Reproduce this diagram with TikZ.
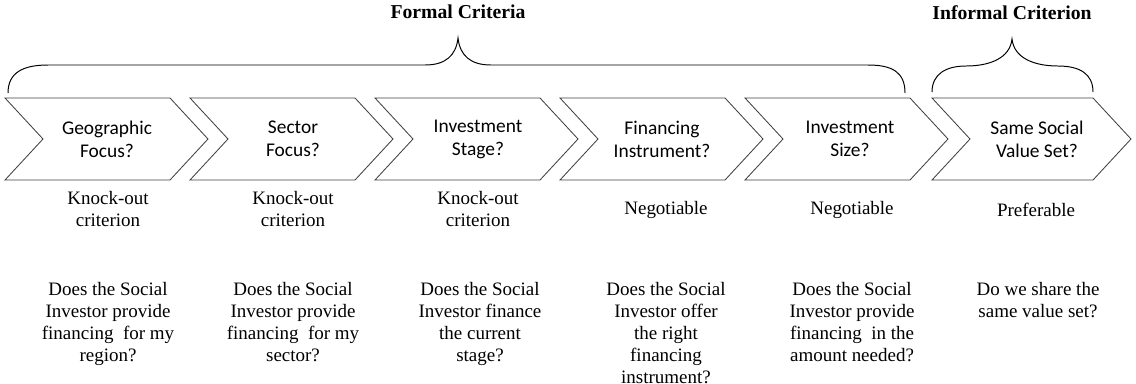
\documentclass[tikz,border=0pt]{standalone}
\usepackage{fontspec}
\setmainfont{Liberation Serif}
\newfontfamily\stepfont{Carlito}
\usepackage{tikz}
\usetikzlibrary{positioning}
\tikzstyle{chevron}=[draw=black!75, line width=0.6pt, line join=miter]
\tikzstyle{curly}=[draw=black, line width=0.7pt]
\tikzstyle{steptext}=[align=center, inner sep=0pt, font=\stepfont\fontsize{13.8}{16.4}\selectfont]
\tikzstyle{ratetext}=[align=center, inner sep=0pt, font=\fontsize{13.5}{15.6}\selectfont]
\tikzstyle{asktext}=[align=center, anchor=north, inner sep=0pt, font=\fontsize{13.5}{15.6}\selectfont]
\tikzstyle{bracetitle}=[inner sep=0pt, font=\bfseries\fontsize{14}{16}\selectfont]

\begin{document}
\begin{tikzpicture}[x=0.025cm, y=-0.025cm]
		   \useasboundingbox (0,0) rectangle (1136,383);
		   \begin{scope}
			   \draw[chevron] (5,98) -- ++(165,0) -- ++(38,41) -- ++(-38,41) -- ++(-165,0) -- ++(38,-41) -- cycle;
			   \draw[chevron] (190,98) -- ++(165,0) -- ++(38,41) -- ++(-38,41) -- ++(-165,0) -- ++(38,-41) -- cycle;
			   \draw[chevron] (375,98) -- ++(165,0) -- ++(38,41) -- ++(-38,41) -- ++(-165,0) -- ++(38,-41) -- cycle;
			   \draw[chevron] (560,98) -- ++(165,0) -- ++(38,41) -- ++(-38,41) -- ++(-165,0) -- ++(38,-41) -- cycle;
			   \draw[chevron] (745,98) -- ++(165,0) -- ++(38,41) -- ++(-38,41) -- ++(-165,0) -- ++(38,-41) -- cycle;
			   \draw[chevron] (932,98) -- ++(161,0) -- ++(38,41) -- ++(-38,41) -- ++(-161,0) -- ++(38,-41) -- cycle;
		   \end{scope}
		   \begin{scope}
			   \node[steptext] (geo) at (107,139) {Geographic\\Focus?};
			   \node[steptext] (sector) at (293,139) {Sector\\Focus?};
			   \node[steptext] (stage) at (478,139) {Investment\\Stage?};
			   \node[steptext] (instr) at (662,139) {Financing\\Instrument?};
			   \node[steptext] (size) at (850,139) {Investment\\Size?};
			   \node[steptext] (value) at (1037,139) {Same Social\\Value Set?};
		   \end{scope}
		   \begin{scope}
			   \node[ratetext] (georate) at (108,209) {Knock-out\\criterion};
			   \node[ratetext] (sectorrate) at (293,209) {Knock-out\\criterion};
			   \node[ratetext] (stagerate) at (478,209) {Knock-out\\criterion};
			   \node[ratetext] (instrrate) at (666,210) {Negotiable};
			   \node[ratetext] (sizerate) at (852,210) {Negotiable};
			   \node[ratetext] (valuerate) at (1036,210) {Preferable};
		   \end{scope}
		   \begin{scope}
			   \node[asktext] (geoask) at (108,282) {Does the Social\\Investor provide\\financing\ \ for my\\region?};
			   \node[asktext] (sectorask) at (293,282) {Does the Social\\Investor provide\\financing\ \ for my\\sector?};
			   \node[asktext] (stageask) at (480,282) {Does the Social\\Investor finance\\the current\\stage?};
			   \node[asktext] (instrask) at (666,282) {Does the Social\\Investor offer\\the right\\financing\\instrument?};
			   \node[asktext] (sizeask) at (852,282) {Does the Social\\Investor provide\\financing\ \ in the\\amount needed?};
			   \node[asktext] (valueask) at (1038,282) {Do we share the\\same value set?};
		   \end{scope}
		   \begin{scope}
			   \node[bracetitle] (formal) at (458,12) {Formal Criteria};
			   \node[bracetitle] (informal) at (1012,13) {Informal Criterion};
			   \draw[curly] (8,93) .. controls (8,72) and (24,65) .. (48,65) -- (425,65)
			       .. controls (445,65) and (456,56) .. (458,38)
			       .. controls (460,56) and (471,65) .. (491,65) -- (868,65)
			       .. controls (892,65) and (905,72) .. (905,93);
			   \draw[curly] (932,92) .. controls (932,74) and (946,66) .. (966,66)
			       .. controls (990,66) and (1010,58) .. (1012,39)
			       .. controls (1014,58) and (1034,66) .. (1058,66)
			       .. controls (1080,66) and (1093,74) .. (1093,92);
		   \end{scope}
	   \end{tikzpicture}
\end{document}
